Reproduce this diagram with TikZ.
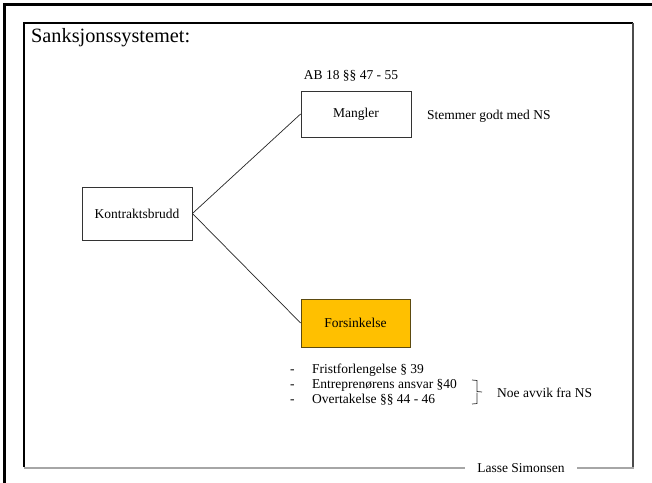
\documentclass[tikz,border=0pt]{standalone}
\usepackage{fontspec}
\setmainfont{Liberation Serif}
\definecolor{orng}{HTML}{FFC000}
\definecolor{orngline}{HTML}{5C4A10}
\begin{document}
\begin{tikzpicture}[x=1bp,y=-1bp,
  txt/.style={font=\fontsize{13.5bp}{15bp}\selectfont, inner sep=0pt},
  box/.style={draw=black!80, line width=0.8bp, minimum width=#1, inner sep=0pt,
    font=\fontsize{13.5bp}{15bp}\selectfont},
  conn/.style={draw=black!85, line width=0.7bp}]
\useasboundingbox (0,0) rectangle (652,483);
\fill[white] (0,0) rectangle (652,483);
% outer slide frame (top and left)
\draw[line width=2.5bp, black] (652,4.5) -- (4.5,4.5) -- (4.5,483);
% inner frame
\draw[line width=1.2bp, black] (24,467) -- (24,23) -- (633,23);
\draw[line width=1.5bp, black!70] (633,23) -- (633,467.5);
\draw[line width=2bp, black!35] (24,467.5) -- (465,467.5);
\draw[line width=2bp, black!35] (577,467.5) -- (633.7,467.5);
\node[txt, anchor=center] (author) at (521,468) {Lasse Simonsen};
% title
\node[anchor=base west, inner sep=0pt, font=\fontsize{20.3bp}{22bp}\selectfont] (title) at (31,43) {Sanksjonssystemet:};
% boxes
\node[box, minimum width=110bp, minimum height=53bp] (kb) at (137,213.5) {Kontraktsbrudd};
\node[box, minimum width=110bp, minimum height=46bp] (mangler) at (356,114) {Mangler};
\node[box, fill=orng, draw=orngline, minimum width=109bp, minimum height=48bp] (fors) at (355.5,323) {Forsinkelse};
\draw[conn] (kb.east) -- (mangler.west);
\draw[conn] (kb.east) -- (fors.west);
% labels
\node[txt, anchor=base] (ab) at (351,80) {AB 18 §§ 47 - 55};
\node[txt, anchor=base west] (stemmer) at (427,120) {Stemmer godt med NS};
% list
\node[txt, anchor=base west] (d1) at (290,373) {-};
\node[txt, anchor=base west] (l1) at (312,373) {Fristforlengelse § 39};
\node[txt, anchor=base west] (d2) at (290,388) {-};
\node[txt, anchor=base west] (l2) at (312,388) {Entreprenørens ansvar §40};
\node[txt, anchor=base west] (d3) at (290,403) {-};
\node[txt, anchor=base west] (l3) at (312,403) {Overtakelse §§ 44 - 46};
% bracket
\coordinate (bt) at (472,380);
\coordinate (bm) at (482,392);
\coordinate (bb) at (472,404);
\draw[black!80, line width=0.7bp] (bt) -- (477,380.5) -- (477,391.5) -- (bm) (477,392.5) -- (477,403.5) -- (bb);
\node[txt, anchor=base west] (noe) at (497,397) {Noe avvik fra NS};
\end{tikzpicture}
\end{document}
